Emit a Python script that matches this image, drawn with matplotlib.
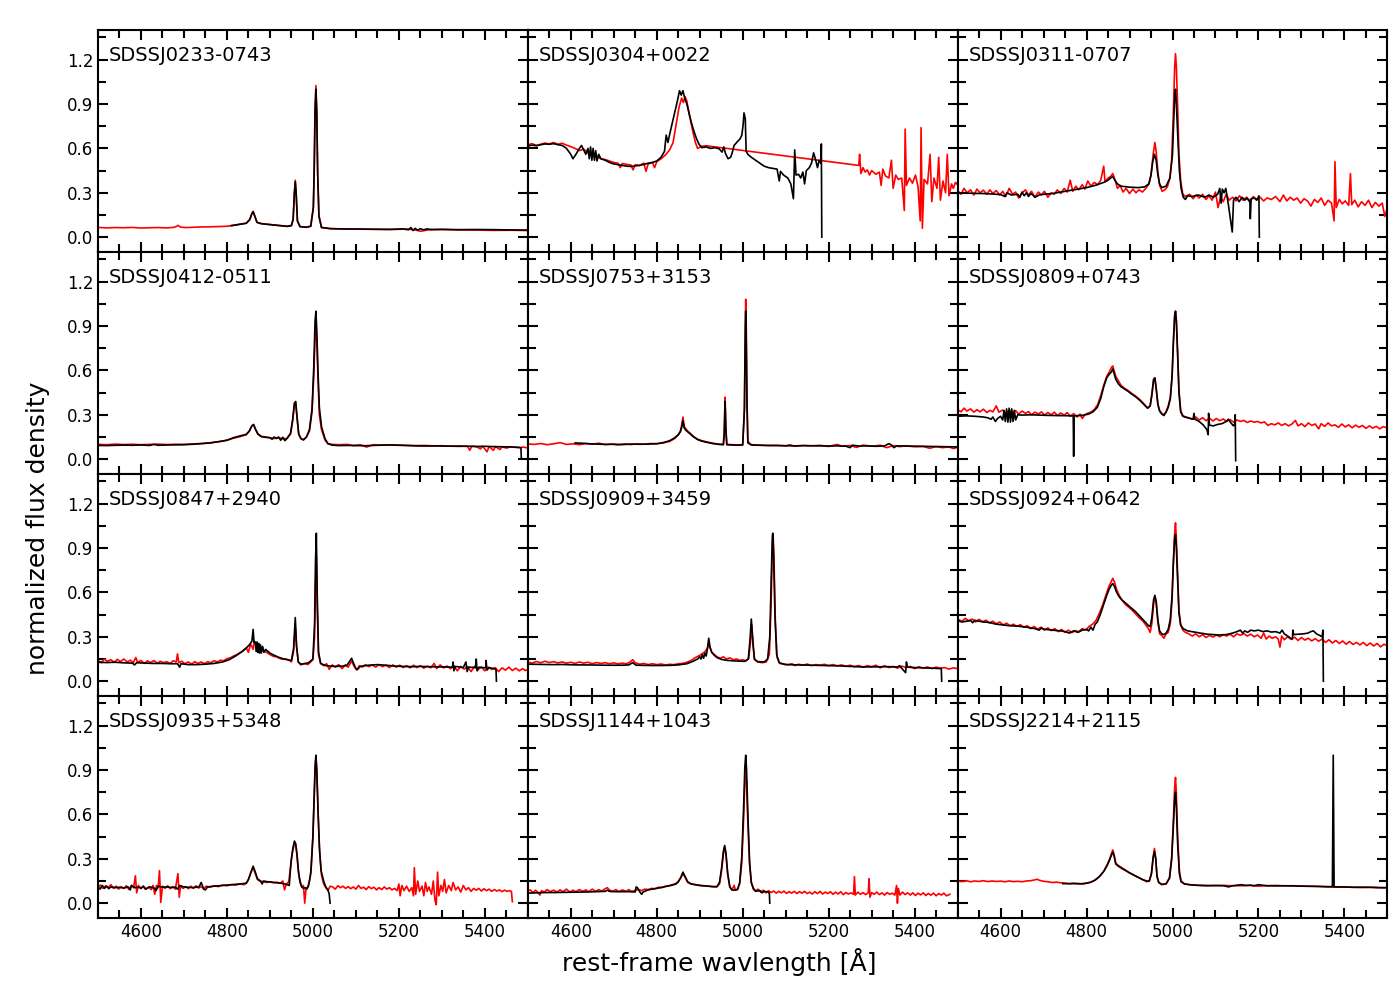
import matplotlib
matplotlib.use("Agg")
import matplotlib.pyplot as plt
from matplotlib.ticker import MultipleLocator

# object names, in panel order (row by row)
names = ["SDSSJ0233-0743", "SDSSJ0304+0022", "SDSSJ0311-0707",
         "SDSSJ0412-0511", "SDSSJ0753+3153", "SDSSJ0809+0743",
         "SDSSJ0847+2940", "SDSSJ0909+3459", "SDSSJ0924+0642",
         "SDSSJ0935+5348", "SDSSJ1144+1043", "SDSSJ2214+2115"]

# each spectrum: list of (rest-frame wavelength [A], normalized flux) pairs
# red = first spectrum, black = second spectrum
red_0233 = [(4500,.066),(4520,.063),(4540,.065),(4560,.064),(4580,.066),(4600,.062),(4620,.064),(4640,.065),
            (4660,.063),(4675,.066),(4682,.072),(4686,.080),(4692,.068),(4705,.065),(4720,.067),(4740,.069),
            (4760,.070),(4780,.072),(4800,.074),(4815,.080),(4830,.088),(4845,.095),(4853,.120),(4858,.160),
            (4861,.175),(4864,.150),(4870,.100),(4880,.092),(4900,.086),(4920,.080),(4940,.074),(4950,.080),
            (4954,.120),(4957,.300),(4959,.385),(4961,.300),(4964,.110),(4970,.072),(4985,.068),(4995,.075),
            (5001,.200),(5003,.450),(5005,.860),(5007,1.025),(5009,.850),(5011,.450),(5014,.150),(5020,.065),
            (5040,.058),(5070,.055),(5100,.055),(5140,.053),(5180,.052),(5220,.055),(5240,.048),(5250,.040),
            (5270,.050),(5300,.052),(5340,.049),(5380,.048),(5420,.046),(5460,.047),(5500,.045)]
black_0233 = [(4810,.078),(4830,.087),(4845,.094),(4853,.118),(4858,.158),(4861,.172),(4864,.148),(4870,.100),
              (4880,.091),(4900,.085),(4920,.079),(4940,.073),(4950,.078),(4954,.120),(4957,.300),(4959,.375),
              (4961,.300),(4964,.110),(4970,.071),(4985,.067),(4995,.074),(5001,.200),(5003,.450),(5005,.850),
              (5007,1.0),(5009,.840),(5011,.440),(5014,.140),(5020,.066),(5040,.058),(5070,.056),(5100,.055),
              (5140,.054),(5180,.053),(5210,.056),(5222,.050),(5228,.065),(5233,.045),(5238,.060),(5243,.048),
              (5250,.057),(5258,.050),(5265,.056),(5275,.052),(5300,.053),(5340,.051),(5380,.052),(5420,.051),
              (5460,.049),(5500,.048)]

red_0304 = [(4500,.625),(4510,.632),(4520,.620),(4530,.628),(4540,.636),(4550,.630),(4560,.640),(4570,.628),
            (4580,.635),(4590,.622),(4600,.612),(4610,.600),(4620,.585),(4630,.595),(4640,.570),(4650,.560),
            (4660,.545),(4670,.530),(4680,.525),(4690,.515),(4700,.505),(4710,.500),(4715,.470),(4720,.498),
            (4730,.492),(4740,.488),(4745,.455),(4750,.490),(4760,.485),(4770,.500),(4775,.445),(4780,.495),
            (4790,.505),(4795,.470),(4800,.510),(4810,.530),(4820,.555),(4830,.590),(4838,.640),(4845,.760),
            (4852,.880),(4858,.940),(4862,.910),(4866,.950),(4870,.920),(4875,.840),(4880,.770),(4885,.700),
            (4890,.640),(4895,.600),(4905,.615),(4915,.618),(5270,.485),(5272,.560),(5275,.430),(5280,.470),
            (5285,.440),(5290,.455),(5295,.420),(5300,.450),(5310,.425),(5318,.440),(5322,.350),(5326,.460),
            (5332,.415),(5340,.400),(5346,.520),(5350,.330),(5356,.420),(5362,.390),(5370,.400),(5376,.180),
            (5378,.730),(5381,.350),(5388,.400),(5395,.365),(5402,.420),(5408,.340),(5413,.110),(5415,.740),
            (5418,.060),(5422,.390),(5430,.360),(5436,.560),(5440,.240),(5445,.400),(5452,.330),(5456,.540),
            (5460,.250),(5466,.380),(5472,.300),(5476,.560),(5480,.280),(5486,.360),(5490,.330),(5495,.370),
            (5500,.355)]
black_0304 = [(4500,.615),(4510,.622),(4520,.618),(4530,.625),(4540,.630),(4550,.628),(4560,.632),(4570,.625),
              (4580,.620),(4590,.600),(4600,.560),(4605,.530),(4612,.560),(4620,.600),(4625,.620),(4630,.590),
              (4635,.560),(4640,.600),(4643,.530),(4646,.610),(4649,.520),(4652,.600),(4655,.520),(4658,.585),
              (4661,.515),(4665,.560),(4670,.530),(4680,.520),(4690,.505),(4700,.495),(4710,.490),(4720,.485),
              (4730,.480),(4740,.478),(4750,.482),(4760,.485),(4770,.492),(4780,.500),(4790,.505),(4800,.515),
              (4810,.540),(4818,.580),(4822,.690),(4826,.640),(4832,.720),(4840,.820),(4848,.920),(4853,.990),
              (4857,.960),(4861,.990),(4865,.940),(4870,.900),(4875,.840),(4880,.780),(4886,.720),(4892,.670),
              (4898,.630),(4905,.605),(4915,.610),(4925,.600),(4935,.605),(4945,.598),(4952,.575),(4956,.610),
              (4960,.565),(4966,.530),(4972,.540),(4976,.575),(4980,.620),(4986,.640),(4994,.665),(4998,.690),
              (5001,.760),(5003,.840),(5006,.800),(5008,.580),(5012,.560),(5020,.540),(5030,.520),(5040,.500),
              (5050,.480),(5060,.470),(5070,.465),(5080,.460),(5085,.380),(5088,.445),(5095,.420),(5105,.400),
              (5112,.360),(5118,.260),(5121,.590),(5124,.420),(5130,.425),(5135,.400),(5140,.440),(5144,.360),
              (5148,.450),(5155,.470),(5160,.500),(5165,.570),(5170,.520),(5174,.470),(5178,.520),(5182,.500),
              (5183,.630),(5184,.0)]

red_0311 = [(4500,.315),(4508,.290),(4515,.330),(4522,.300),(4530,.320),(4538,.285),(4545,.325),(4552,.300),
            (4560,.318),(4568,.290),(4575,.320),(4582,.295),(4590,.315),(4598,.285),(4605,.310),(4612,.275),
            (4620,.330),(4628,.290),(4635,.305),(4642,.265),(4650,.300),(4658,.320),(4665,.285),(4672,.310),
            (4680,.270),(4688,.305),(4695,.285),(4702,.310),(4710,.270),(4718,.300),(4725,.290),(4732,.320),
            (4740,.295),(4748,.330),(4755,.305),(4762,.385),(4768,.310),(4775,.345),(4782,.320),(4790,.355),
            (4796,.325),(4803,.380),(4810,.345),(4818,.370),(4826,.355),(4833,.385),(4840,.480),(4843,.375),
            (4850,.400),(4856,.410),(4861,.430),(4866,.390),(4872,.330),(4878,.350),(4885,.305),(4892,.330),
            (4900,.295),(4908,.325),(4915,.300),(4922,.320),(4930,.305),(4938,.330),(4945,.360),(4950,.420),
            (4955,.560),(4959,.640),(4962,.580),(4966,.440),(4970,.350),(4976,.310),(4982,.320),(4988,.340),
            (4994,.400),(4998,.520),(5002,.850),(5005,1.150),(5007,1.240),(5009,1.150),(5012,.880),(5015,.560),
            (5019,.380),(5024,.290),(5030,.275),(5040,.290),(5048,.260),(5055,.285),(5062,.265),(5070,.290),
            (5078,.255),(5085,.280),(5092,.250),(5100,.305),(5106,.200),(5112,.275),(5118,.240),(5125,.290),
            (5132,.250),(5140,.270),(5148,.245),(5156,.280),(5164,.250),(5172,.270),(5180,.240),(5188,.275),
            (5196,.255),(5204,.270),(5212,.245),(5220,.265),(5230,.255),(5240,.275),(5250,.240),(5258,.285),
            (5266,.245),(5274,.270),(5282,.250),(5290,.265),(5298,.230),(5306,.260),(5314,.245),(5322,.210),
            (5330,.255),(5338,.235),(5346,.265),(5354,.215),(5362,.250),(5370,.230),(5376,.110),(5378,.510),
            (5381,.200),(5388,.255),(5395,.225),(5402,.245),(5410,.215),(5414,.430),(5417,.220),(5424,.250),
            (5432,.205),(5440,.240),(5448,.215),(5456,.250),(5464,.200),(5472,.235),(5480,.210),(5488,.230),
            (5494,.140),(5500,.200)]
black_0311 = [(4500,.300),(4520,.298),(4540,.296),(4560,.295),(4580,.292),(4600,.288),(4610,.275),(4615,.300),
              (4625,.285),(4640,.290),(4645,.270),(4650,.305),(4655,.280),(4660,.300),(4665,.275),(4670,.295),
              (4675,.285),(4680,.270),(4690,.285),(4700,.290),(4720,.295),(4740,.305),(4760,.315),(4780,.325),
              (4800,.335),(4820,.350),(4840,.370),(4850,.385),(4856,.400),(4861,.410),(4866,.385),(4872,.360),
              (4880,.345),(4900,.338),(4920,.335),(4935,.340),(4945,.360),(4950,.420),(4954,.510),(4958,.560),
              (4962,.520),(4966,.420),(4970,.360),(4975,.335),(4985,.345),(4994,.400),(5000,.560),(5003,.800),
              (5005,.950),(5007,1.000),(5009,.900),(5012,.700),(5016,.450),(5020,.330),(5025,.270),(5030,.255),
              (5035,.280),(5045,.275),(5060,.285),(5075,.270),(5085,.285),(5095,.270),(5105,.290),(5110,.330),
              (5113,.230),(5116,.325),(5120,.300),(5124,.330),(5130,.220),(5139,.035),(5142,.250),(5148,.270),
              (5155,.240),(5162,.270),(5168,.250),(5174,.265),(5178,.245),(5180,.250),(5181,.125),(5183,.260),
              (5190,.265),(5196,.250),(5201,.280),(5202,.0)]

red_0412 = [(4500,.100),(4520,.098),(4540,.102),(4560,.099),(4580,.101),(4600,.098),(4620,.100),(4640,.102),
            (4660,.099),(4680,.101),(4700,.100),(4720,.103),(4740,.106),(4760,.110),(4780,.118),(4800,.128),
            (4815,.142),(4830,.152),(4845,.165),(4852,.190),(4858,.225),(4862,.232),(4866,.205),(4872,.170),
            (4880,.155),(4890,.150),(4900,.145),(4910,.140),(4920,.145),(4930,.138),(4940,.140),(4948,.170),
            (4953,.260),(4957,.370),(4960,.375),(4963,.280),(4967,.170),(4972,.140),(4978,.132),(4985,.150),
            (4992,.190),(4998,.320),(5002,.560),(5005,.820),(5007,.890),(5009,.800),(5012,.530),(5015,.300),
            (5020,.200),(5028,.130),(5035,.105),(5045,.100),(5060,.098),(5080,.100),(5095,.092),(5110,.098),
            (5125,.082),(5140,.098),(5160,.095),(5180,.097),(5200,.096),(5220,.094),(5240,.092),(5260,.093),
            (5280,.090),(5300,.091),(5320,.088),(5340,.090),(5360,.086),(5365,.060),(5370,.088),(5380,.085),
            (5390,.070),(5395,.088),(5405,.050),(5410,.085),(5420,.060),(5425,.086),(5435,.065),(5440,.084),
            (5450,.075),(5460,.083),(5470,.080),(5480,.078),(5490,.082),(5500,.075)]
black_0412 = [(4500,.093),(4520,.092),(4540,.094),(4560,.095),(4580,.094),(4600,.096),(4620,.093),(4630,.100),
              (4640,.094),(4660,.096),(4680,.097),(4700,.098),(4720,.101),(4740,.105),(4760,.110),(4780,.118),
              (4800,.128),(4815,.145),(4830,.157),(4845,.168),(4852,.190),(4858,.225),(4862,.235),(4866,.205),
              (4872,.170),(4880,.152),(4890,.148),(4900,.145),(4905,.135),(4910,.150),(4915,.140),(4920,.150),
              (4925,.128),(4930,.148),(4935,.125),(4940,.142),(4948,.175),(4953,.270),(4957,.380),(4960,.390),
              (4963,.290),(4967,.170),(4972,.140),(4978,.130),(4985,.150),(4992,.200),(4998,.340),(5002,.620),
              (5005,.930),(5007,1.000),(5009,.870),(5012,.580),(5015,.350),(5020,.220),(5028,.140),(5035,.105),
              (5045,.095),(5060,.092),(5080,.093),(5100,.092),(5120,.091),(5140,.093),(5160,.095),(5180,.096),
              (5200,.094),(5220,.092),(5240,.090),(5260,.089),(5280,.090),(5300,.089),(5320,.088),(5340,.087),
              (5360,.088),(5380,.086),(5400,.087),(5420,.085),(5440,.084),(5460,.083),(5480,.080),(5484,.076),
              (5485,.005)]

red_0753 = [(4500,.103),(4515,.100),(4530,.106),(4545,.098),(4560,.104),(4575,.112),(4590,.100),(4605,.104),
            (4620,.098),(4635,.106),(4650,.101),(4665,.108),(4680,.099),(4695,.102),(4710,.097),(4725,.103),
            (4740,.099),(4755,.104),(4770,.101),(4785,.106),(4800,.104),(4815,.110),(4830,.120),(4842,.140),
            (4850,.165),(4855,.190),(4858,.230),(4861,.285),(4864,.220),(4868,.205),(4872,.190),(4878,.175),
            (4885,.155),(4895,.135),(4905,.125),(4915,.118),(4930,.108),(4945,.102),(4955,.100),(4957,.180),
            (4959,.420),(4961,.200),(4963,.100),(4975,.098),(4990,.097),(5000,.098),(5004,.350),(5006,.900),
            (5007,1.080),(5008,.950),(5010,.400),(5012,.120),(5020,.098),(5040,.095),(5060,.092),(5080,.094),
            (5100,.090),(5110,.098),(5120,.088),(5140,.092),(5160,.090),(5180,.094),(5200,.086),(5220,.100),
            (5230,.088),(5250,.092),(5265,.080),(5280,.095),(5300,.088),(5320,.094),(5335,.078),(5350,.092),
            (5365,.085),(5380,.090),(5400,.084),(5420,.086),(5435,.074),(5450,.085),(5465,.078),(5480,.083),
            (5490,.072),(5500,.080)]
black_0753 = [(4610,.110),(4625,.108),(4640,.105),(4660,.102),(4680,.100),(4700,.101),(4720,.099),(4740,.102),
              (4760,.101),(4780,.102),(4800,.105),(4815,.112),(4830,.125),(4842,.145),(4850,.165),(4855,.185),
              (4858,.215),(4861,.260),(4864,.210),(4868,.195),(4872,.185),(4878,.170),(4885,.152),(4895,.133),
              (4905,.122),(4915,.115),(4930,.106),(4945,.100),(4955,.098),(4957,.170),(4959,.390),(4961,.190),
              (4963,.098),(4975,.096),(4990,.095),(5000,.096),(5004,.330),(5006,.850),(5007,1.000),(5008,.880),
              (5010,.370),(5012,.110),(5020,.096),(5040,.094),(5060,.093),(5080,.092),(5100,.091),(5120,.090),
              (5140,.092),(5160,.091),(5180,.090),(5200,.089),(5220,.090),(5240,.088),(5250,.078),(5255,.095),
              (5270,.089),(5290,.090),(5310,.087),(5330,.090),(5340,.105),(5345,.098),(5352,.078),(5358,.090),
              (5380,.089),(5400,.088),(5420,.087),(5440,.086),(5460,.085),(5480,.084),(5500,.083)]

red_0809 = [(4500,.335),(4508,.320),(4515,.345),(4522,.325),(4530,.340),(4538,.318),(4545,.335),(4552,.320),
            (4560,.338),(4568,.315),(4575,.330),(4582,.320),(4590,.360),(4596,.318),(4605,.332),(4612,.310),
            (4620,.330),(4628,.312),(4635,.328),(4642,.305),(4650,.325),(4658,.310),(4665,.322),(4672,.300),
            (4680,.318),(4688,.305),(4695,.320),(4702,.298),(4710,.315),(4718,.300),(4725,.318),(4732,.295),
            (4740,.312),(4748,.298),(4755,.315),(4762,.290),(4770,.308),(4778,.285),(4785,.305),(4790,.275),
            (4796,.300),(4802,.310),(4810,.318),(4818,.335),(4826,.370),(4833,.430),(4840,.500),(4847,.560),
            (4853,.590),(4858,.620),(4861,.630),(4864,.600),(4868,.560),(4874,.530),(4880,.500),(4888,.480),
            (4896,.465),(4905,.445),(4915,.425),(4925,.400),(4935,.370),(4942,.345),(4948,.360),(4952,.430),
            (4956,.530),(4959,.545),(4962,.480),(4966,.370),(4970,.330),(4975,.310),(4980,.300),(4985,.320),
            (4990,.360),(4995,.420),(4999,.560),(5002,.780),(5005,.960),(5007,1.000),(5009,.940),(5012,.720),
            (5015,.470),(5019,.330),(5024,.295),(5030,.285),(5038,.280),(5046,.270),(5054,.285),(5062,.265),
            (5070,.280),(5078,.260),(5086,.278),(5094,.258),(5102,.275),(5110,.260),(5118,.272),(5126,.255),
            (5134,.268),(5142,.250),(5150,.265),(5158,.255),(5166,.262),(5174,.248),(5182,.258),(5190,.250),
            (5198,.255),(5206,.245),(5214,.252),(5222,.228),(5230,.240),(5238,.232),(5246,.245),(5254,.228),
            (5262,.240),(5270,.225),(5278,.238),(5286,.262),(5292,.225),(5300,.240),(5308,.220),(5316,.245),
            (5324,.228),(5332,.238),(5340,.205),(5346,.240),(5354,.222),(5362,.245),(5370,.225),(5378,.232),
            (5386,.215),(5394,.238),(5402,.218),(5410,.232),(5418,.212),(5426,.230),(5434,.215),(5442,.228),
            (5450,.208),(5458,.225),(5466,.210),(5474,.222),(5482,.205),(5490,.220),(5500,.212)]
black_0809 = [(4500,.290),(4520,.293),(4540,.290),(4560,.285),(4570,.280),(4578,.270),(4582,.285),(4588,.255),
              (4593,.275),(4600,.290),(4605,.265),(4608,.330),(4611,.255),(4614,.340),(4617,.250),(4620,.345),
              (4623,.250),(4626,.340),(4629,.255),(4632,.330),(4635,.265),(4640,.300),(4650,.298),(4670,.300),
              (4690,.298),(4710,.296),(4730,.295),(4750,.294),(4769,.293),(4770,.020),(4771,.293),(4790,.296),
              (4805,.305),(4815,.320),(4825,.350),(4833,.410),(4840,.490),(4847,.550),(4853,.575),(4858,.590),
              (4861,.610),(4864,.580),(4868,.540),(4874,.510),(4880,.490),(4888,.475),(4896,.460),(4905,.440),
              (4915,.420),(4925,.395),(4935,.365),(4942,.345),(4948,.360),(4952,.440),(4956,.540),(4959,.550),
              (4962,.480),(4966,.370),(4970,.325),(4975,.305),(4980,.295),(4985,.318),(4990,.350),(4995,.410),
              (4999,.560),(5002,.790),(5005,.970),(5007,1.000),(5009,.930),(5012,.700),(5015,.450),(5019,.320),
              (5024,.290),(5035,.280),(5048,.270),(5050,.310),(5052,.270),(5062,.255),(5072,.230),(5080,.200),
              (5083,.165),(5084,.310),(5086,.230),(5095,.225),(5105,.235),(5115,.240),(5125,.255),(5130,.270),
              (5136,.245),(5142,.225),(5145,.240),(5146,.300),(5147,-.010)]

red_0847 = [(4500,.140),(4508,.125),(4515,.150),(4522,.135),(4530,.145),(4538,.128),(4545,.148),(4552,.132),
            (4560,.150),(4568,.130),(4575,.142),(4582,.125),(4588,.160),(4592,.128),(4600,.140),(4608,.120),
            (4615,.138),(4622,.125),(4630,.140),(4638,.122),(4645,.135),(4652,.125),(4660,.132),(4668,.120),
            (4675,.138),(4682,.130),(4685,.185),(4688,.125),(4695,.135),(4702,.118),(4710,.130),(4718,.115),
            (4725,.132),(4732,.120),(4740,.130),(4748,.118),(4755,.132),(4762,.125),(4770,.138),(4778,.130),
            (4785,.142),(4792,.138),(4800,.152),(4808,.158),(4815,.170),(4822,.178),(4830,.192),(4838,.205),
            (4845,.225),(4850,.195),(4855,.250),(4858,.235),(4861,.215),(4864,.270),(4868,.245),(4872,.230),
            (4878,.215),(4885,.205),(4892,.195),(4900,.180),(4908,.168),(4915,.165),(4922,.155),(4930,.148),
            (4938,.150),(4945,.142),(4950,.130),(4955,.200),(4959,.370),(4962,.230),(4966,.130),(4972,.110),
            (4980,.120),(4988,.112),(4995,.130),(5000,.145),(5004,.300),(5006,.650),(5008,.840),(5010,.500),
            (5013,.180),(5018,.120),(5025,.105),(5032,.118),(5038,.080),(5045,.110),(5052,.095),(5060,.112),
            (5068,.085),(5075,.108),(5082,.095),(5090,.135),(5096,.100),(5102,.075),(5108,.105),(5115,.095),
            (5122,.112),(5130,.098),(5138,.110),(5146,.095),(5154,.112),(5162,.098),(5170,.108),(5178,.092),
            (5186,.110),(5194,.095),(5202,.108),(5210,.092),(5218,.105),(5226,.090),(5234,.108),(5242,.092),
            (5250,.105),(5258,.088),(5266,.102),(5274,.090),(5282,.120),(5288,.085),(5296,.110),(5304,.090),
            (5312,.102),(5320,.085),(5328,.105),(5336,.070),(5344,.100),(5352,.082),(5360,.098),(5368,.065),
            (5376,.100),(5384,.078),(5392,.095),(5400,.070),(5408,.095),(5416,.080),(5424,.092),(5432,.065),
            (5440,.090),(5448,.075),(5456,.095),(5464,.072),(5472,.088),(5480,.070),(5488,.085),(5494,.072),
            (5500,.080)]
black_0847 = [(4500,.128),(4520,.126),(4540,.128),(4560,.124),(4580,.122),(4585,.110),(4590,.125),(4610,.122),
              (4630,.120),(4650,.120),(4670,.118),(4685,.118),(4690,.095),(4693,.118),(4710,.112),(4730,.112),
              (4750,.115),(4770,.120),(4790,.130),(4805,.145),(4820,.170),(4835,.200),(4845,.225),(4852,.245),
              (4858,.270),(4861,.350),(4863,.260),(4866,.265),(4868,.200),(4870,.265),(4872,.195),(4874,.255),
              (4876,.190),(4878,.245),(4880,.190),(4883,.235),(4886,.195),(4890,.215),(4900,.190),(4910,.175),
              (4920,.162),(4930,.152),(4940,.145),(4950,.140),(4955,.220),(4959,.430),(4962,.240),(4966,.130),
              (4972,.115),(4980,.118),(4990,.125),(5000,.150),(5004,.400),(5006,.800),(5008,1.000),(5010,.600),
              (5013,.200),(5018,.120),(5030,.105),(5050,.100),(5070,.102),(5080,.110),(5090,.155),(5094,.125),
              (5100,.085),(5104,.080),(5110,.100),(5130,.108),(5150,.112),(5170,.108),(5190,.102),(5210,.100),
              (5230,.098),(5250,.100),(5270,.098),(5290,.097),(5310,.096),(5325,.095),(5326,.130),(5328,.070),
              (5332,.100),(5350,.092),(5356,.130),(5359,.065),(5362,.095),(5378,.092),(5380,.150),(5382,.070),
              (5386,.095),(5402,.090),(5403,.140),(5405,.075),(5410,.092),(5420,.085),(5426,.080),(5427,.0)]

red_0909 = [(4500,.130),(4510,.122),(4520,.133),(4530,.125),(4540,.135),(4550,.126),(4560,.132),(4570,.124),
            (4580,.130),(4590,.122),(4600,.128),(4610,.120),(4620,.130),(4630,.122),(4640,.128),(4650,.118),
            (4660,.126),(4670,.120),(4680,.125),(4690,.118),(4700,.124),(4710,.117),(4720,.122),(4730,.118),
            (4738,.130),(4744,.145),(4750,.125),(4760,.115),(4770,.120),(4780,.112),(4790,.118),(4800,.112),
            (4810,.116),(4820,.110),(4830,.114),(4840,.112),(4850,.118),(4860,.120),(4870,.128),(4880,.140),
            (4890,.160),(4900,.175),(4908,.190),(4914,.205),(4918,.225),(4921,.255),(4924,.225),(4928,.195),
            (4934,.180),(4940,.165),(4948,.155),(4955,.165),(4962,.150),(4970,.158),(4978,.145),(4986,.150),
            (4994,.140),(5000,.145),(5008,.138),(5014,.155),(5018,.260),(5021,.380),(5024,.240),(5028,.145),
            (5035,.130),(5045,.125),(5055,.130),(5062,.180),(5066,.500),(5069,.920),(5071,.980),(5073,.800),
            (5076,.400),(5080,.160),(5086,.120),(5095,.115),(5105,.112),(5115,.118),(5122,.105),(5130,.115),
            (5140,.108),(5150,.116),(5160,.105),(5170,.112),(5180,.108),(5190,.114),(5200,.105),(5210,.112),
            (5220,.104),(5230,.110),(5240,.100),(5250,.108),(5260,.098),(5270,.106),(5280,.095),(5290,.105),
            (5300,.098),(5310,.108),(5320,.090),(5330,.105),(5340,.092),(5350,.100),(5360,.088),(5370,.102),
            (5380,.092),(5390,.100),(5400,.085),(5410,.098),(5420,.088),(5430,.096),(5440,.085),(5450,.095),
            (5460,.088),(5470,.092),(5480,.082),(5490,.090),(5500,.085)]
black_0909 = [(4500,.115),(4520,.114),(4540,.113),(4560,.112),(4580,.113),(4600,.111),(4620,.110),(4640,.110),
              (4660,.109),(4680,.108),(4700,.108),(4720,.108),(4735,.110),(4744,.125),(4752,.108),(4770,.107),
              (4790,.106),(4810,.106),(4830,.107),(4850,.110),(4870,.118),(4885,.135),(4895,.150),(4900,.165),
              (4903,.150),(4906,.180),(4909,.155),(4912,.190),(4915,.170),(4918,.220),(4921,.290),(4924,.230),
              (4928,.195),(4934,.175),(4940,.160),(4950,.148),(4960,.142),(4975,.138),(4990,.136),(5005,.134),
              (5013,.150),(5017,.280),(5020,.420),(5023,.300),(5027,.150),(5035,.132),(5050,.130),(5058,.150),
              (5063,.300),(5066,.650),(5069,.980),(5070,1.000),(5072,.850),(5075,.450),(5079,.180),(5085,.125),
              (5100,.112),(5130,.110),(5160,.108),(5190,.106),(5220,.104),(5250,.100),(5280,.096),(5310,.097),
              (5340,.098),(5360,.096),(5365,.105),(5372,.080),(5379,.058),(5381,.130),(5383,.095),(5400,.092),
              (5420,.090),(5440,.088),(5462,.085),(5463,.0)]

red_0924 = [(4500,.420),(4510,.405),(4518,.425),(4526,.408),(4534,.420),(4542,.400),(4550,.418),(4558,.402),
            (4566,.412),(4574,.395),(4582,.405),(4590,.388),(4598,.400),(4606,.380),(4614,.392),(4622,.375),
            (4630,.385),(4638,.370),(4646,.382),(4654,.365),(4662,.375),(4670,.355),(4678,.370),(4686,.352),
            (4694,.365),(4702,.345),(4710,.360),(4718,.342),(4726,.355),(4734,.335),(4742,.350),(4750,.330),
            (4758,.345),(4766,.328),(4774,.342),(4782,.335),(4790,.355),(4798,.345),(4806,.370),(4814,.385),
            (4822,.410),(4830,.460),(4838,.520),(4846,.590),(4852,.640),(4857,.670),(4861,.695),(4865,.670),
            (4870,.620),(4876,.580),(4882,.550),(4890,.520),(4898,.500),(4906,.480),(4914,.455),(4922,.430),
            (4930,.410),(4938,.380),(4944,.355),(4948,.330),(4952,.390),(4956,.520),(4959,.575),(4962,.530),
            (4966,.400),(4970,.320),(4975,.310),(4980,.290),(4985,.320),(4990,.330),(4995,.390),(4999,.550),
            (5002,.800),(5005,1.000),(5007,1.070),(5009,.960),(5012,.720),(5015,.480),(5019,.380),(5024,.345),
            (5030,.330),(5038,.320),(5046,.305),(5054,.320),(5062,.300),(5070,.315),(5078,.295),(5086,.310),
            (5094,.298),(5102,.312),(5110,.300),(5118,.315),(5126,.305),(5134,.318),(5142,.300),(5150,.320),
            (5158,.310),(5166,.322),(5174,.305),(5182,.318),(5190,.300),(5198,.312),(5206,.290),(5212,.325),
            (5218,.285),(5225,.305),(5232,.290),(5240,.300),(5246,.285),(5250,.230),(5254,.305),(5260,.280),
            (5268,.300),(5276,.282),(5284,.298),(5292,.275),(5300,.295),(5308,.278),(5316,.290),(5324,.272),
            (5332,.288),(5340,.270),(5348,.285),(5356,.262),(5364,.280),(5372,.258),(5380,.275),(5388,.255),
            (5396,.272),(5404,.250),(5412,.268),(5420,.248),(5428,.262),(5436,.245),(5444,.262),(5452,.240),
            (5460,.258),(5468,.238),(5476,.255),(5484,.232),(5492,.250),(5500,.240)]
black_0924 = [(4500,.410),(4510,.400),(4520,.405),(4530,.410),(4535,.395),(4540,.412),(4550,.405),(4560,.400),
              (4570,.398),(4580,.392),(4590,.385),(4600,.382),(4620,.375),(4640,.372),(4660,.365),(4680,.355),
              (4690,.345),(4695,.360),(4700,.352),(4720,.345),(4740,.340),(4750,.335),(4760,.325),(4770,.340),
              (4780,.330),(4790,.345),(4800,.350),(4805,.340),(4810,.365),(4815,.345),(4820,.385),(4825,.400),
              (4832,.450),(4840,.520),(4847,.580),(4853,.625),(4858,.650),(4861,.660),(4865,.640),(4870,.600),
              (4876,.570),(4882,.550),(4890,.530),(4898,.510),(4906,.490),(4914,.470),(4922,.445),(4930,.420),
              (4938,.395),(4944,.375),(4948,.370),(4952,.430),(4956,.550),(4959,.580),(4962,.540),(4966,.410),
              (4970,.340),(4975,.320),(4980,.315),(4985,.325),(4990,.350),(4995,.420),(4999,.580),(5002,.800),
              (5005,.970),(5007,.990),(5009,.900),(5012,.680),(5015,.460),(5019,.380),(5025,.355),(5035,.340),
              (5045,.335),(5055,.330),(5065,.325),(5080,.318),(5095,.315),(5110,.312),(5125,.315),(5140,.325),
              (5150,.335),(5158,.345),(5163,.325),(5168,.340),(5175,.330),(5182,.345),(5190,.340),(5200,.345),
              (5210,.335),(5220,.340),(5230,.332),(5240,.335),(5250,.325),(5255,.345),(5260,.320),(5268,.305),
              (5275,.290),(5279,.285),(5280,.345),(5282,.315),(5295,.318),(5305,.320),(5315,.325),(5322,.335),
              (5328,.340),(5335,.320),(5342,.310),(5348,.300),(5350,.345),(5351,.0)]

red_0935 = [(4500,.110),(4506,.122),(4512,.100),(4518,.118),(4524,.105),(4530,.125),(4536,.100),(4542,.115),
            (4548,.095),(4554,.112),(4560,.100),(4566,.118),(4572,.092),(4578,.120),(4583,.105),(4587,.185),
            (4590,.070),(4594,.120),(4600,.100),(4606,.115),(4612,.095),(4618,.110),(4624,.092),(4628,.120),
            (4632,.060),(4636,.120),(4640,.105),(4643,.220),(4646,.005),(4650,.115),(4656,.100),(4662,.118),
            (4668,.098),(4674,.112),(4680,.095),(4686,.200),(4689,.040),(4692,.115),(4698,.100),(4704,.112),
            (4710,.098),(4716,.115),(4722,.100),(4728,.118),(4734,.102),(4740,.112),(4746,.098),(4752,.115),
            (4760,.108),(4770,.118),(4780,.112),(4790,.122),(4800,.118),(4810,.125),(4820,.122),(4830,.130),
            (4840,.125),(4845,.135),(4850,.160),(4856,.210),(4861,.240),(4866,.200),(4871,.160),(4876,.150),
            (4884,.145),(4892,.140),(4900,.145),(4908,.138),(4916,.142),(4924,.135),(4930,.150),(4934,.090),
            (4938,.130),(4944,.145),(4948,.250),(4952,.340),(4956,.390),(4959,.410),(4962,.350),(4966,.220),
            (4970,.140),(4974,.110),(4978,.120),(4981,.0),(4984,.100),(4988,.110),(4992,.150),(4996,.230),
            (5000,.450),(5003,.700),(5005,.880),(5007,.990),(5009,.900),(5012,.620),(5016,.330),(5020,.190),
            (5025,.130),(5030,.105),(5035,.085),(5040,.115),(5046,.110),(5052,.095),(5058,.118),(5064,.105),
            (5070,.115),(5076,.100),(5082,.112),(5088,.098),(5094,.110),(5100,.095),(5106,.120),(5112,.100),
            (5118,.108),(5124,.092),(5130,.112),(5136,.098),(5142,.108),(5148,.090),(5154,.105),(5160,.092),
            (5166,.110),(5172,.095),(5178,.105),(5184,.090),(5190,.100),(5196,.085),(5200,.130),(5203,.050),
            (5207,.120),(5212,.085),(5218,.115),(5224,.080),(5230,.105),(5234,.050),(5236,.240),(5239,.060),
            (5244,.150),(5248,.080),(5254,.115),(5258,.050),(5262,.140),(5266,.080),(5270,.110),(5276,.060),
            (5280,.150),(5284,.020),(5287,-.010),(5290,.210),(5293,.050),(5298,.120),(5302,.080),(5306,.160),
            (5310,.070),(5316,.120),(5322,.085),(5326,.140),(5332,.090),(5338,.110),(5344,.075),(5350,.120),
            (5356,.090),(5362,.105),(5368,.080),(5374,.100),(5380,.088),(5386,.100),(5392,.082),(5398,.098),
            (5404,.085),(5410,.095),(5416,.080),(5422,.092),(5428,.082),(5434,.090),(5440,.078),(5446,.088),
            (5452,.080),(5458,.085),(5462,.078),(5464,.010)]
black_0935 = [(4500,.110),(4505,.095),(4510,.120),(4515,.100),(4520,.115),(4525,.098),(4530,.110),(4540,.105),
              (4550,.108),(4560,.102),(4570,.110),(4575,.090),(4578,.120),(4585,.105),(4595,.108),(4600,.100),
              (4605,.115),(4610,.095),(4620,.110),(4630,.105),(4635,.085),(4640,.115),(4650,.108),(4660,.110),
              (4670,.106),(4680,.108),(4685,.095),(4690,.120),(4700,.110),(4720,.105),(4735,.110),(4740,.140),
              (4746,.095),(4750,.090),(4755,.110),(4770,.115),(4790,.120),(4810,.125),(4830,.130),(4845,.135),
              (4850,.160),(4856,.210),(4861,.250),(4866,.210),(4871,.165),(4878,.150),(4882,.130),(4885,.150),
              (4895,.145),(4905,.142),(4915,.138),(4925,.135),(4935,.130),(4945,.120),(4947,.200),(4950,.300),
              (4954,.380),(4957,.420),(4960,.400),(4963,.330),(4967,.200),(4970,.150),(4974,.110),(4978,.100),
              (4982,.105),(4986,.095),(4990,.120),(4995,.200),(5000,.450),(5003,.730),(5005,.920),(5007,1.000),
              (5009,.900),(5012,.620),(5015,.380),(5019,.220),(5025,.150),(5030,.110),(5035,.090),(5038,.060),
              (5040,.0)]

red_1144 = [(4500,.080),(4506,.090),(4512,.070),(4518,.088),(4524,.072),(4528,.055),(4532,.085),(4538,.075),
            (4545,.092),(4552,.078),(4560,.088),(4568,.075),(4575,.090),(4582,.078),(4590,.095),(4598,.075),
            (4605,.088),(4612,.078),(4620,.092),(4628,.080),(4635,.090),(4642,.078),(4650,.095),(4658,.080),
            (4665,.092),(4672,.082),(4680,.098),(4685,.105),(4690,.088),(4698,.080),(4705,.092),(4712,.078),
            (4720,.090),(4728,.080),(4735,.092),(4742,.078),(4750,.088),(4758,.092),(4765,.085),(4772,.095),
            (4780,.092),(4788,.100),(4796,.098),(4804,.108),(4812,.105),(4820,.115),(4828,.118),(4836,.125),
            (4844,.132),(4850,.145),(4856,.170),(4861,.200),(4866,.175),(4872,.140),(4880,.130),(4890,.125),
            (4900,.120),(4910,.118),(4920,.115),(4930,.112),(4940,.110),(4946,.130),(4951,.220),(4955,.330),
            (4958,.380),(4961,.330),(4965,.200),(4970,.110),(4975,.090),(4980,.120),(4983,.090),(4988,.095),
            (4993,.130),(4998,.280),(5002,.560),(5005,.820),(5007,.900),(5009,.800),(5012,.540),(5016,.260),
            (5020,.140),(5025,.100),(5030,.085),(5036,.095),(5042,.075),(5048,.088),(5054,.070),(5060,.085),
            (5066,.072),(5072,.082),(5078,.068),(5084,.080),(5090,.070),(5096,.082),(5102,.066),(5108,.078),
            (5114,.068),(5120,.080),(5126,.065),(5132,.078),(5138,.068),(5144,.080),(5150,.065),(5156,.075),
            (5162,.062),(5168,.078),(5174,.065),(5180,.080),(5186,.062),(5192,.075),(5198,.065),(5204,.078),
            (5210,.060),(5216,.075),(5222,.062),(5228,.078),(5234,.058),(5240,.072),(5246,.062),(5252,.070),
            (5258,.060),(5260,.180),(5262,.055),(5268,.075),(5274,.060),(5280,.072),(5286,.058),(5292,.070),
            (5294,.165),(5296,.040),(5300,.072),(5306,.060),(5312,.075),(5318,.058),(5324,.070),(5330,.055),
            (5336,.072),(5342,.060),(5348,.068),(5354,.055),(5358,.120),(5360,.0),(5362,.100),(5366,.055),
            (5372,.075),(5378,.058),(5384,.070),(5390,.055),(5396,.070),(5402,.052),(5408,.068),(5414,.056),
            (5420,.070),(5426,.052),(5432,.066),(5438,.054),(5444,.068),(5450,.050),(5456,.065),(5462,.055),
            (5468,.068),(5474,.050),(5482,.060)]
black_1144 = [(4500,.068),(4520,.070),(4540,.072),(4560,.072),(4580,.073),(4600,.074),(4620,.075),(4640,.076),
              (4660,.078),(4680,.080),(4685,.088),(4690,.080),(4700,.078),(4720,.078),(4740,.078),(4750,.076),
              (4752,.110),(4755,.105),(4758,.090),(4762,.070),(4765,.060),(4768,.075),(4780,.090),(4800,.100),
              (4820,.112),(4836,.122),(4845,.130),(4850,.145),(4856,.175),(4861,.210),(4866,.180),(4872,.145),
              (4880,.130),(4890,.125),(4900,.120),(4910,.117),(4920,.115),(4930,.112),(4940,.112),(4946,.140),
              (4951,.240),(4955,.350),(4958,.390),(4961,.340),(4965,.200),(4970,.110),(4975,.090),(4980,.088),
              (4988,.092),(4993,.140),(4998,.320),(5002,.640),(5005,.920),(5007,1.000),(5009,.900),(5012,.600),
              (5016,.280),(5020,.140),(5025,.095),(5030,.080),(5040,.085),(5045,.070),(5050,.080),(5060,.075),
              (5062,.065),(5063,.0)]

red_2214 = [(4500,.150),(4510,.146),(4520,.152),(4530,.145),(4540,.150),(4550,.147),(4560,.152),(4570,.146),
            (4580,.150),(4590,.147),(4600,.149),(4610,.145),(4620,.150),(4630,.146),(4640,.148),(4650,.145),
            (4660,.150),(4670,.152),(4680,.158),(4685,.162),(4690,.155),(4700,.148),(4710,.145),(4720,.140),
            (4730,.142),(4740,.138),(4750,.136),(4760,.132),(4770,.135),(4780,.130),(4790,.133),(4800,.135),
            (4810,.142),(4820,.155),(4830,.180),(4840,.215),(4848,.260),(4854,.300),(4858,.335),(4861,.360),
            (4864,.330),(4868,.270),(4874,.255),(4882,.240),(4890,.225),(4900,.205),(4910,.190),(4920,.175),
            (4930,.160),(4940,.145),(4946,.150),(4951,.200),(4955,.310),(4958,.370),(4961,.300),(4964,.180),
            (4968,.140),(4975,.125),(4985,.130),(4993,.170),(4998,.300),(5002,.560),(5005,.780),(5007,.850),
            (5009,.740),(5012,.450),(5016,.220),(5020,.150),(5028,.130),(5040,.125),(5060,.122),(5080,.120),
            (5100,.118),(5120,.120),(5140,.118),(5160,.118),(5180,.120),(5200,.115),(5220,.118),(5240,.120),
            (5260,.117),(5280,.118),(5300,.116),(5320,.115),(5340,.114),(5360,.110),(5380,.108),(5400,.110),
            (5420,.107),(5440,.106),(5460,.108),(5480,.104),(5500,.103)]
black_2214 = [(4745,.132),(4760,.132),(4780,.133),(4790,.130),(4800,.135),(4810,.142),(4820,.157),(4830,.180),
              (4840,.215),(4848,.255),(4854,.295),(4858,.325),(4861,.345),(4864,.320),(4868,.265),(4874,.250),
              (4882,.235),(4890,.222),(4900,.205),(4910,.190),(4920,.175),(4930,.160),(4940,.150),(4946,.150),
              (4951,.200),(4955,.310),(4958,.350),(4961,.300),(4964,.180),(4968,.140),(4975,.128),(4985,.130),
              (4993,.170),(4998,.300),(5002,.520),(5005,.700),(5007,.750),(5009,.650),(5012,.400),(5016,.200),
              (5020,.145),(5028,.130),(5040,.125),(5060,.120),(5080,.118),(5100,.120),(5120,.118),(5130,.110),
              (5140,.118),(5160,.125),(5170,.120),(5180,.122),(5190,.118),(5200,.125),(5220,.118),(5240,.117),
              (5260,.118),(5280,.117),(5300,.115),(5320,.114),(5340,.113),(5360,.112),(5372,.112),(5374,1.000),
              (5376,.110),(5390,.110),(5420,.108),(5440,.108),(5460,.107),(5480,.106),(5500,.105)]

reds = [red_0233, red_0304, red_0311, red_0412, red_0753, red_0809,
        red_0847, red_0909, red_0924, red_0935, red_1144, red_2214]
blacks = [black_0233, black_0304, black_0311, black_0412, black_0753, black_0809,
          black_0847, black_0909, black_0924, black_0935, black_1144, black_2214]

fig, axes = plt.subplots(4, 3, figsize=(14, 10), dpi=100, sharex=True, sharey=True)
fig.subplots_adjust(left=0.07, right=0.991, top=0.97, bottom=0.082, hspace=0, wspace=0)

for ax, name, red, black in zip(axes.flat, names, reds, blacks):
    w, f = zip(*red)
    ax.plot(w, f, color="red", lw=1.2)
    w, f = zip(*black)
    ax.plot(w, f, color="black", lw=1.2)
    ax.text(0.025, 0.93, name, transform=ax.transAxes, fontsize=14, va="top", ha="left")
    ax.set_xlim(4500, 5500)
    ax.set_ylim(-0.1, 1.4)
    ax.xaxis.set_major_locator(MultipleLocator(200))
    ax.xaxis.set_minor_locator(MultipleLocator(50))
    ax.yaxis.set_major_locator(MultipleLocator(0.3))
    ax.yaxis.set_minor_locator(MultipleLocator(0.15))
    ax.tick_params(which="both", direction="in", top=True, right=True, width=1.5, labelsize=12)
    ax.tick_params(which="major", length=7)
    ax.tick_params(which="minor", length=6)
    for sp in ax.spines.values():
        sp.set_linewidth(1.5)

fig.text(0.027, 0.472, "normalized flux density", rotation=90, fontsize=18, ha="center", va="center")
fig.text(0.514, 0.038, "rest-frame wavlength [\u00c5]", fontsize=18, ha="center", va="center")

plt.savefig("out.png", dpi=100)
